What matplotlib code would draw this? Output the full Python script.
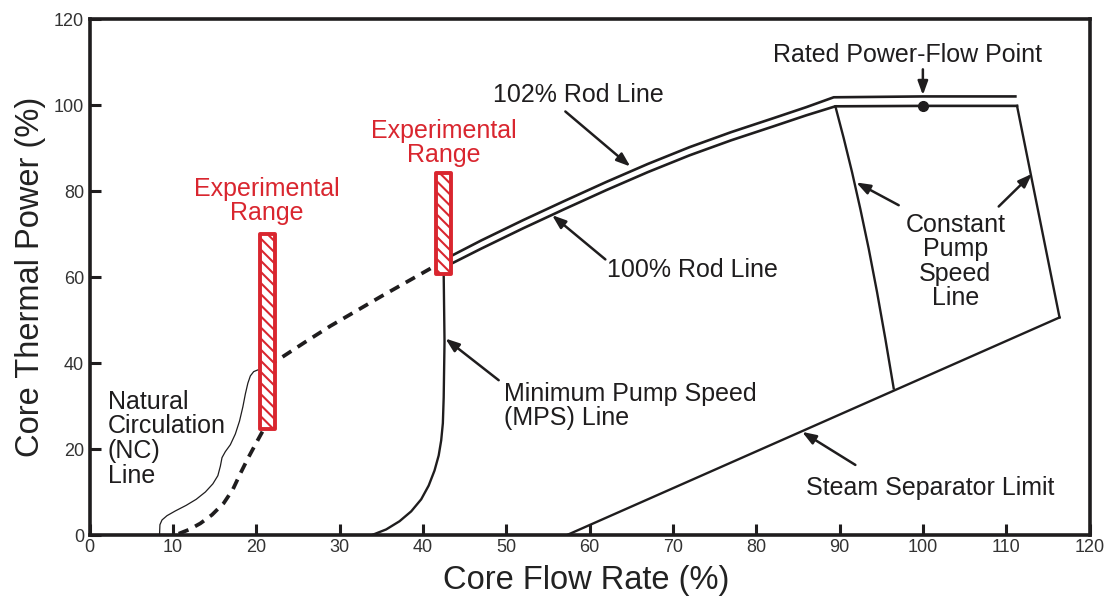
import matplotlib
matplotlib.use("Agg")
import matplotlib.pyplot as plt

plt.rcParams['font.family'] = ['Liberation Sans', 'DejaVu Sans']
plt.rcParams['hatch.linewidth'] = 1.5

RED = '#d9262f'
INK = '#1f1d1e'

# --- curves (x = core flow %, y = thermal power %) ---
rod100_x = [42.5, 47.0, 52.0, 57.0, 62.0, 67.0, 72.0, 77.0, 82.0, 86.0, 89.5, 100.0, 111.3]
rod100_y = [62.2, 66.6, 71.3, 75.8, 80.2, 84.4, 88.3, 91.8, 95.0, 97.6, 99.7, 99.8, 99.8]

rod102_x = [42.5, 47.0, 52.0, 57.0, 62.0, 67.0, 72.0, 77.0, 82.0, 86.0, 89.3, 100.0, 111.1]
rod102_y = [64.0, 68.5, 73.2, 77.7, 82.1, 86.3, 90.2, 93.7, 96.9, 99.5, 101.8, 102.0, 102.0]

pump_left_x = [89.5, 90.5, 91.5, 92.5, 93.5, 94.5, 95.5, 96.5]
pump_left_y = [99.7, 92.3, 84.4, 75.8, 66.6, 56.5, 45.6, 34.1]

pump_right_x = [111.3, 116.4]
pump_right_y = [99.8, 50.6]

separator_x = [116.4, 57.3]
separator_y = [50.6, 0.0]

mps_x = [42.5, 42.6, 42.5, 42.4, 42.2, 41.9, 41.4, 40.7, 39.8, 38.6, 37.2, 35.6, 33.9]
mps_y = [60.6, 45.0, 32.0, 26.0, 22.0, 18.5, 15.0, 11.5, 8.3, 5.5, 3.2, 1.3, 0.0]

nc_x = [8.4, 8.45, 8.7, 9.3, 10.3, 11.6, 12.8, 13.9, 14.8, 15.4, 15.7, 15.9, 16.3,
        16.9, 17.5, 18.0, 18.4, 18.7, 19.0, 19.3, 19.7, 20.2, 21.0]
nc_y = [0.0, 2.4, 3.5, 4.5, 5.6, 6.9, 8.3, 10.0, 11.9, 13.8, 16.0, 18.0, 19.4,
        21.0, 23.5, 26.5, 29.8, 32.8, 35.3, 37.0, 38.0, 38.4, 38.5]

dash_low_x = [10.7, 12.0, 13.3, 14.7, 16.1, 17.2, 18.1, 19.0, 20.0, 21.3]
dash_low_y = [0.3, 1.3, 2.7, 4.7, 7.4, 10.6, 14.3, 17.8, 21.4, 26.0]

dash_high_x = [21.3, 22.9, 25.9, 28.9, 32.0, 35.0, 38.2, 41.3, 42.5]
dash_high_y = [39.3, 41.1, 44.9, 48.6, 52.1, 55.5, 59.0, 62.4, 62.5]

# experimental ranges (hatched bars)
range_x = [21.3, 42.5]
range_low = [24.7, 60.6]
range_high = [70.1, 84.1]

rated_x = [100.0]
rated_y = [99.8]

fig = plt.figure(figsize=(11.12, 6.12), dpi=100)
ax = fig.add_axes([0.0805, 0.1258, 0.8993, 0.8431])

ax.plot(rod100_x, rod100_y, color=INK, lw=1.9)
ax.plot(rod102_x, rod102_y, color=INK, lw=1.9)
ax.plot(pump_left_x, pump_left_y, color=INK, lw=1.7)
ax.plot(pump_right_x, pump_right_y, color=INK, lw=1.7)
ax.plot(separator_x, separator_y, color=INK, lw=1.7)
ax.plot(mps_x, mps_y, color=INK, lw=1.7)
ax.plot(nc_x, nc_y, color=INK, lw=0.9)
ax.plot(dash_low_x, dash_low_y, color=INK, lw=2.7, dashes=(2.8, 2.0))
ax.plot(dash_high_x, dash_high_y, color=INK, lw=2.7, dashes=(2.8, 2.0))

heights = [h - l for h, l in zip(range_high, range_low)]
ax.bar(range_x, heights, bottom=range_low, width=1.8, facecolor='white',
       edgecolor=RED, hatch='\\\\\\', linewidth=2.8, joinstyle='round', zorder=5)

ax.plot(rated_x, rated_y, 'o', ms=7, color=INK, zorder=6)

# labels
fs = 18
ax.text(21.3, 77.6, 'Experimental\nRange', color=RED, ha='center', va='center',
        fontsize=fs, linespacing=1.0)
ax.text(42.5, 91.2, 'Experimental\nRange', color=RED, ha='center', va='center',
        fontsize=fs, linespacing=1.0)
ax.text(58.7, 102.3, '102% Rod Line', color=INK, ha='center', va='center', fontsize=fs)
ax.text(72.3, 61.6, '100% Rod Line', color=INK, ha='center', va='center', fontsize=fs)
ax.text(98.1, 111.6, 'Rated Power-Flow Point', color=INK, ha='center', va='center', fontsize=fs)
ax.text(103.9, 63.6, 'Constant\nPump\nSpeed\nLine', color=INK, ha='center', va='center',
        fontsize=fs, linespacing=1.03)
ax.text(2.2, 22.4, 'Natural\nCirculation\n(NC)\nLine', color=INK, ha='left', va='center',
        fontsize=fs, linespacing=1.03)
ax.text(49.7, 30.0, 'Minimum Pump Speed\n(MPS) Line', color=INK, ha='left', va='center',
        fontsize=fs, linespacing=1.0)
ax.text(100.9, 10.9, 'Steam Separator Limit', color=INK, ha='center', va='center', fontsize=fs)

arrow = dict(arrowstyle='-|>,head_length=0.55,head_width=0.2', color=INK, lw=1.8,
             mutation_scale=15, shrinkA=0, shrinkB=0)
ax.annotate('', xy=(64.9, 85.7), xytext=(57.1, 98.5), arrowprops=arrow)
ax.annotate('', xy=(55.5, 74.4), xytext=(61.9, 64.1), arrowprops=arrow)
ax.annotate('', xy=(100.0, 102.3), xytext=(100.0, 108.3), arrowprops=arrow)
ax.annotate('', xy=(92.0, 82.0), xytext=(97.1, 76.7), arrowprops=arrow)
ax.annotate('', xy=(113.1, 84.0), xytext=(109.1, 76.4), arrowprops=arrow)
ax.annotate('', xy=(42.7, 45.7), xytext=(49.1, 36.0), arrowprops=arrow)
ax.annotate('', xy=(85.5, 24.0), xytext=(91.9, 16.3), arrowprops=arrow)

ax.set_xlim(0, 120)
ax.set_ylim(0, 120)
ax.set_xticks(range(0, 121, 10))
ax.set_yticks(range(0, 121, 20))
ax.tick_params(direction='in', length=8, width=2.2, labelsize=13,
               labelcolor='#333333', color=INK)
ax.tick_params(axis='x', pad=3)
ax.tick_params(axis='y', pad=4)
for s in ax.spines.values():
    s.set_linewidth(2.6)
    s.set_color(INK)

ax.set_xlabel('Core Flow Rate (%)', fontsize=23.5, color='#222222')
ax.set_ylabel('Core Thermal Power (%)', fontsize=23.5, color='#222222')
ax.xaxis.set_label_coords(0.497, -0.059)
ax.yaxis.set_label_coords(-0.044, 0.5)

fig.savefig('out.png', dpi=100)
